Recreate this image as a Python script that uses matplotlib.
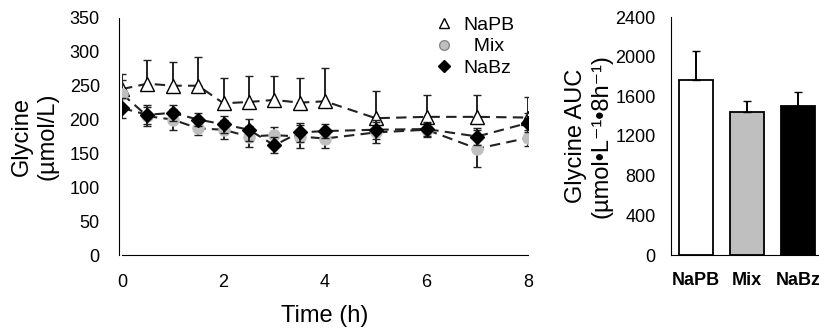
import matplotlib.pyplot as plt
from matplotlib.lines import Line2D
import numpy as np

time_h = [0, 0.5, 1, 1.5, 2, 2.5, 3, 3.5, 4, 5, 6, 7, 8]

napb = [245, 253, 250, 250, 224, 226, 229, 225, 227, 202, 204, 204, 203]
napb_err = [22, 35, 35, 42, 38, 38, 36, 37, 49, 40, 33, 33, 31]

mix = [238, 205, 200, 187, 185, 175, 177, 175, 172, 181, 185, 157, 173]
mix_err = [20, 14, 15, 10, 14, 16, 12, 17, 14, 16, 10, 27, 12]

nabz = [217, 207, 210, 200, 193, 185, 162, 181, 183, 185, 186, 175, 195]
nabz_err = [15, 14, 12, 10, 13, 16, 12, 14, 10, 14, 10, 12, 14]

groups = ["NaPB", "Mix", "NaBz"]
auc = [1760, 1440, 1500]
auc_err = [300, 110, 140]
bar_colors = ["white", "#bfbfbf", "black"]

plt.rcParams["font.family"] = ["Liberation Sans", "DejaVu Sans"]

fig = plt.figure(figsize=(8.19, 3.32), dpi=100)

# time course
ax = fig.add_axes([122 / 819, 77 / 332, 406 / 819, 237 / 332])
dash = (0, (5, 3))
line_kw = dict(color="#222222", ls=dash, lw=1.5, capsize=3, elinewidth=1.4,
               ecolor="#222222")
ax.errorbar(time_h, napb, yerr=[np.zeros(len(napb)), napb_err],
            marker="^", ms=10, mfc="white", mec="black", zorder=2, **line_kw)
ax.errorbar(time_h, mix, yerr=mix_err,
            marker="o", ms=8, mfc="#bfbfbf", mec="#bfbfbf", zorder=3, **line_kw)
ax.errorbar(time_h, nabz, yerr=nabz_err,
            marker="D", ms=7, mfc="black", mec="black", zorder=4, **line_kw)
ax.set_xlim(0, 8)
ax.set_ylim(0, 350)
ax.set_xticks([0, 2, 4, 6, 8])
ax.set_yticks(range(0, 351, 50))
ax.tick_params(length=0, labelsize=13)
ax.tick_params(axis="y", pad=14)
ax.tick_params(axis="x", pad=14)
for s in ["top", "right"]:
    ax.spines[s].set_visible(False)
ax.spines["left"].set_position(("outward", 2))
ax.set_xlabel("Time (h)", fontsize=17, labelpad=10)
ax.set_ylabel("Glycine\n(µmol/L)", fontsize=17, labelpad=8)

handles = [
    Line2D([], [], ls="none", marker="^", ms=7, mfc="white", mec="black"),
    Line2D([], [], ls="none", marker="o", ms=7, mfc="#bfbfbf", mec="#888888"),
    Line2D([], [], ls="none", marker="D", ms=6, mfc="black", mec="black"),
]
ax.legend(handles, ["NaPB", "  Mix", "NaBz"], loc="upper left",
          bbox_to_anchor=(0.735, 1.065), frameon=False, fontsize=14,
          handletextpad=0.5, labelspacing=0.2, handlelength=1,
          borderpad=0.2)

# AUC bars
bx = fig.add_axes([671 / 819, 77 / 332, 158 / 819, 238 / 332])
xpos = np.arange(len(groups))
bx.bar(xpos, auc, width=0.67, color=bar_colors, edgecolor="black", lw=1.3)
bx.errorbar(xpos, auc, yerr=[np.zeros(len(auc)), auc_err], fmt="none",
            ecolor="black", capsize=3, elinewidth=1.4)
bx.set_xlim(-0.49, 2.6)
bx.set_ylim(0, 2400)
bx.set_yticks(range(0, 2401, 400))
bx.set_xticks(xpos)
bx.set_xticklabels(groups, fontweight="bold", fontsize=13)
bx.tick_params(length=0, labelsize=13)
bx.tick_params(axis="y", pad=11)
bx.tick_params(axis="x", pad=12)
for s in ["top", "right"]:
    bx.spines[s].set_visible(False)
bx.set_ylabel("Glycine AUC\n(µmol•L\u207b\u00b9•8h\u207b\u00b9)", fontsize=17,
              labelpad=2)

fig.savefig("out.png", dpi=100)
